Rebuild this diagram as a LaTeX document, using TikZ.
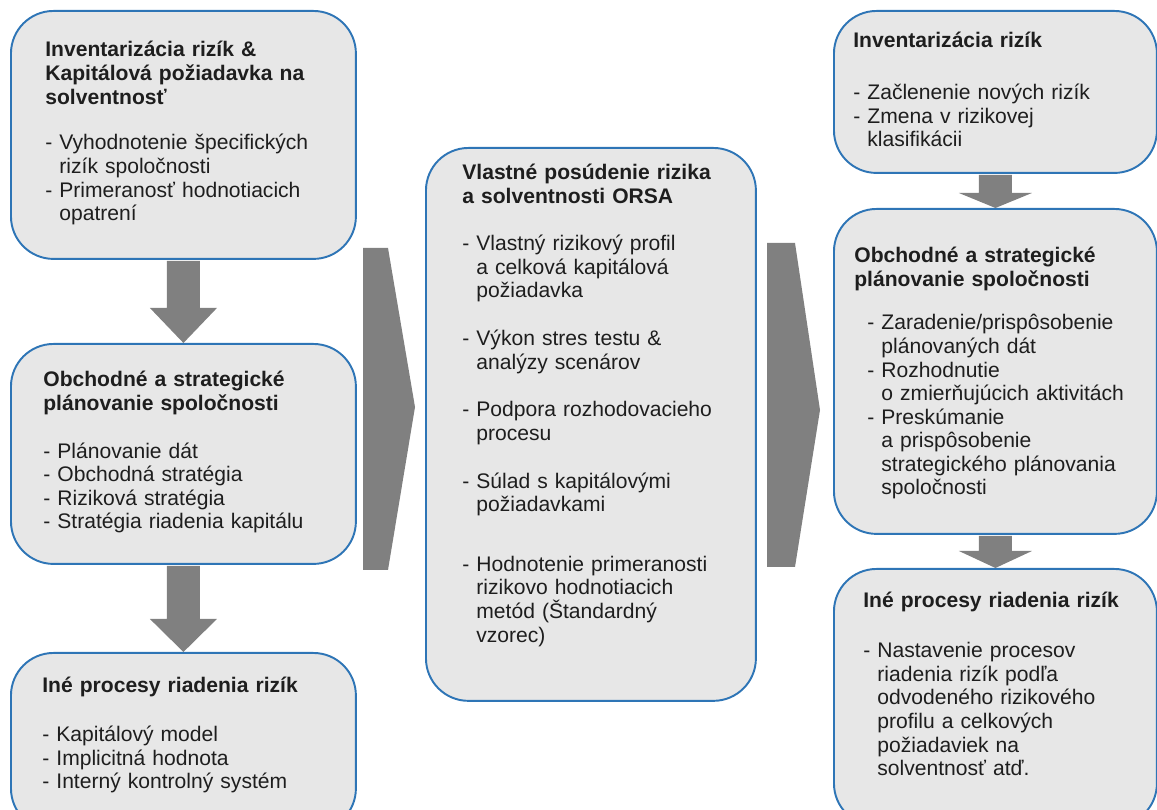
\documentclass[tikz,border=0pt]{standalone}
\usepackage{fontspec}
\setmainfont{Liberation Sans}
\usetikzlibrary{calc}
\definecolor{boxblue}{RGB}{46,117,182}
\definecolor{boxgray}{RGB}{231,231,231}
\definecolor{arrowgray}{RGB}{128,128,128}
\definecolor{textdark}{RGB}{30,30,30}
\newcommand{\ind}{\phantom{-\ }}

\begin{document}
\begin{tikzpicture}[x=0.02cm, y=-0.02cm,
    box/.style={rectangle, draw=boxblue, fill=boxgray, line width=1.1pt,
        rounded corners=0.85cm, inner sep=0pt, anchor=north west},
    boxtext/.style={inner sep=0pt, anchor=base west, align=left,
        text width=6.2cm, text=textdark, font=\fontsize{12}{13.4}\selectfont},
    blockarrow/.style={fill=arrowgray, draw=none},
    chevron/.style={fill=arrowgray, draw=none}
]
\useasboundingbox (0,0) rectangle (1157,810);

% left column
\node (L1) [box, minimum width=6.9cm, minimum height=4.96cm] at (10,10) {};
\node (L2) [box, minimum width=6.9cm, minimum height=4.4cm] at (10,343) {};
\node (L3) [box, minimum width=6.9cm, minimum height=3.56cm] at (10,652) {};
% middle
\node (M) [box, minimum width=6.6cm, minimum height=11.06cm] at (425,147) {};
% right column
\node (R1) [box, minimum width=6.46cm, minimum height=3.24cm] at (833,10) {};
\node (R2) [box, minimum width=6.46cm, minimum height=6.5cm] at (833,208) {};
\node (R3) [box, minimum width=6.46cm, minimum height=5.14cm] at (833,568) {};

\node (L1text) [boxtext] at (45,57) {\textbf{Inventarizácia rizík \&}\\
    \textbf{Kapitálová požiadavka na}\\ \textbf{solventnosť}\\[12.7pt]
    - Vyhodnotenie špecifických\\ \ind rizík spoločnosti\\
    - Primeranosť hodnotiacich\\ \ind opatrení};
\node (L2text) [boxtext] at (43,387) {\textbf{Obchodné a strategické}\\
    \textbf{plánovanie spoločnosti}\\[13.8pt]
    - Plánovanie dát\\ - Obchodná stratégia\\ - Riziková stratégia\\
    - Stratégia riadenia kapitálu};
\node (L3text) [boxtext] at (42,693) {\textbf{Iné procesy riadenia rizík}\\[14.4pt]
    - Kapitálový model\\ - Implicitná hodnota\\ - Interný kontrolný systém};

\node (Mtext) [boxtext] at (462,180) {\textbf{Vlastné posúdenie rizika}\\
    \textbf{a solventnosti ORSA}\\[13.4pt]
    - Vlastný rizikový profil\\ \ind a celková kapitálová\\ \ind požiadavka\\[13.8pt]
    - Výkon stres testu \&\\ \ind analýzy scenárov\\[13.8pt]
    - Podpora rozhodovacieho\\ \ind procesu\\[13.8pt]
    - Súlad s kapitálovými\\ \ind požiadavkami\\[20.6pt]
    - Hodnotenie primeranosti\\ \ind rizikovo hodnotiacich\\
    \ind metód (Štandardný\\ \ind vzorec)};

\node (R1text) [boxtext] at (853,48) {\textbf{Inventarizácia rizík}\\[16pt]
    - Začlenenie nových rizík\\ - Zmena v rizikovej\\ \ind klasifikácii};
\node (R2title) [boxtext] at (854,263) {\textbf{Obchodné a strategické}\\
    \textbf{plánovanie spoločnosti}};
\node (R2list) [boxtext] at (867,330) {- Zaradenie/prispôsobenie\\ \ind plánovaných dát\\
    - Rozhodnutie\\ \ind o zmierňujúcich aktivitách\\
    - Preskúmanie\\ \ind a prispôsobenie\\ \ind strategického plánovania\\
    \ind spoločnosti};
\node (R3text) [boxtext] at (863,608) {\textbf{Iné procesy riadenia rizík}\\[15pt]
    - Nastavenie procesov\\ \ind riadenia rizík podľa\\ \ind odvodeného rizikového\\
    \ind profilu a celkových\\ \ind požiadaviek na\\ \ind solventnosť atď.};

% down arrows between boxes
\foreach \from/\to/\hw/\hl in {L1/L2/33.5/35, L2/L3/33.5/33, R1/R2/36.5/15, R2/R3/36.5/17}
    \fill[blockarrow] ($(\from.south)+(-16.5,1)$) -- ($(\to.north)+(-16.5,-\hl)$)
        -- ($(\to.north)+(-\hw,-\hl)$) -- (\to.north) -- ($(\to.north)+(\hw,-\hl)$)
        -- ($(\to.north)+(16.5,-\hl)$) -- ($(\from.south)+(16.5,1)$) -- cycle;

% chevrons between columns
\fill[chevron] (363,248) -- (388,248) -- (415,407) -- (388,570) -- (363,570) -- cycle;
\fill[chevron] (767,243) -- (795,243) -- (820,410) -- (795,567) -- (767,567) -- cycle;
\end{tikzpicture}
\end{document}
